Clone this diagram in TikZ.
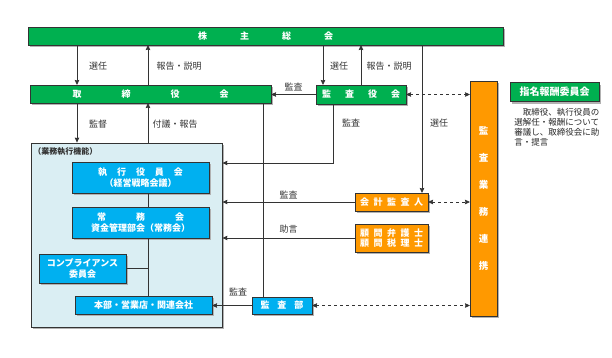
\documentclass[tikz,border=0pt]{standalone}
\usepackage{fontspec}
\setmainfont{Noto Sans CJK JP}
\usetikzlibrary{shadows,arrows.meta}

\definecolor{kgreen}{HTML}{00B050}
\definecolor{kblue}{HTML}{00B0F0}
\definecolor{korange}{HTML}{FF9900}
\definecolor{kpale}{HTML}{DAEEF3}
\definecolor{kline}{HTML}{333333}

\begin{document}
\begin{tikzpicture}[x=1pt,y=-1pt,line width=0.8pt,color=kline,
    >={Stealth[length=5pt,width=4.5pt,inset=0.5pt]},
    shade/.style={drop shadow={shadow xshift=2pt,shadow yshift=-2pt,fill=black!30,opacity=1}},
    gbox/.style={draw=kline,fill=kgreen,text=white,inner sep=0pt,outer sep=0pt,align=center,
        font=\bfseries\fontsize{9}{11}\selectfont,shade},
    bbox/.style={gbox,fill=kblue},
    obox/.style={gbox,fill=korange},
    lbl/.style={text=kline,inner sep=1pt,font=\fontsize{9}{11}\selectfont}]

    \useasboundingbox (0,0) rectangle (612,357);

    % COLUMNS
    \coordinate (c1) at (77,0);
    \coordinate (c2) at (148,0);
    \coordinate (c3) at (263,0);
    \coordinate (c4) at (323,0);
    \coordinate (c5) at (361,0);
    \coordinate (c6) at (422,0);
    \coordinate (c7) at (333,163);

    % ROW 1
    \node[gbox,minimum width=475pt,minimum height=18pt] (soukai) at (265.5,36)
        {株\hspace{33pt}主\hspace{33pt}総\hspace{33pt}会};

    % ROW 2
    \node[gbox,minimum width=241pt,minimum height=18pt] (torishimari) at (150.5,94)
        {取\hspace{40pt}締\hspace{40pt}役\hspace{40pt}会};
    \node[gbox,minimum width=90pt,minimum height=19pt] (kansayaku) at (361,94.5)
        {監\hspace{14pt}査\hspace{14pt}役\hspace{14pt}会};
    \node[obox,minimum width=27pt,minimum height=235pt,font=\bfseries\fontsize{9.5}{27}\selectfont] (renkei) at (483.5,198.5)
        {監\\査\\業\\務\\連\\携};
    \node[gbox,minimum width=89pt,minimum height=19pt,font=\bfseries\fontsize{10}{12}\selectfont] (shimei) at (554.5,92)
        {指名報酬委員会};
    \node[anchor=north west,align=left,inner sep=0pt,text=black!85,font=\fontsize{8.5}{10}\selectfont] (shimeinote) at (514,108)
        {　取締役、執行役員の\\選解任・報酬について\\審議し、取締役会に助\\言・提言};

    % BUSINESS EXECUTION
    \node[draw=kline,fill=kpale,minimum width=191pt,minimum height=184pt,inner sep=0pt,shade] (gyomu) at (126.5,235) {};
    \node[anchor=west,inner sep=0pt,text=kline,font=\bfseries\fontsize{8}{10}\selectfont] (gyomulbl) at (33,152) {（業務執行機能）};
    \node[bbox,minimum width=137pt,minimum height=31pt] (shikko) at (140.5,177.5)
        {執\hspace{10pt}行\hspace{10pt}役\hspace{10pt}員\hspace{10pt}会\\（経営戦略会議）};
    \node[bbox,minimum width=137pt,minimum height=31pt] (jomu) at (140.5,222.5)
        {常\hspace{30pt}務\hspace{30pt}会\\資金管理部会（常務会）};
    \node[bbox,minimum width=87pt,minimum height=29pt] (compli) at (82.5,268.5)
        {コンプライアンス\\委員会};
    \node[bbox,minimum width=137pt,minimum height=18pt] (honbu) at (143.5,305)
        {本部・営業店・関連会社};

    % AUDIT
    \node[obox,minimum width=73pt,minimum height=18pt] (kaikei) at (391.5,202)
        {会\hspace{4.5pt}計\hspace{4.5pt}監\hspace{4.5pt}査\hspace{4.5pt}人};
    \node[obox,minimum width=73pt,minimum height=28pt,font=\bfseries\fontsize{9}{10}\selectfont] (komon) at (391.5,238)
        {顧\hspace{4.5pt}問\hspace{4.5pt}弁\hspace{4.5pt}護\hspace{4.5pt}士\\顧\hspace{4.5pt}問\hspace{4.5pt}税\hspace{4.5pt}理\hspace{4.5pt}士};
    \node[bbox,minimum width=60pt,minimum height=17pt] (kansabu) at (282,305.5)
        {監\hspace{8pt}査\hspace{8pt}部};

    % ARROWS
    \draw[->] (c1 |- soukai.south) -- (c1 |- torishimari.north);
    \draw[->] (c2 |- torishimari.north) -- (c2 |- soukai.south);
    \draw[->] (c4 |- soukai.south) -- (c4 |- kansayaku.north);
    \draw[->] (c5 |- kansayaku.north) -- (c5 |- soukai.south);
    \draw[->] (c6 |- soukai.south) -- (c6 |- kaikei.north);
    \draw[->] (kansayaku.west) -- (kansayaku.west -| torishimari.east)
        node[lbl,midway,above=2pt] (lkansa0) {監査};
    \draw[<->,dashed] (kansayaku.east) -- (kansayaku.east -| renkei.west);

    \draw[->] (c1 |- torishimari.south) -- (c1 |- gyomu.north);
    \draw[->] (c2 |- gyomu.north) -- (c2 |- torishimari.south);
    \draw (c3 |- torishimari.south) -- (c3 |- kansabu.north);
    \draw[->] (c7 |- kansayaku.south) -- (c7) -- (c7 -| gyomu.east);

    \draw[->] (kaikei.west) -- (kaikei.west -| gyomu.east)
        node[lbl,midway,above=2pt] (lkansa2) {監査};
    \draw[<->,dashed] (kaikei.east) -- (kaikei.east -| renkei.west);
    \draw[->] (komon.west) -- (komon.west -| gyomu.east)
        node[lbl,midway,above=3pt] (ljogen) {助言};
    \draw[->] (kansabu.west) -- (honbu.east |- kansabu.west)
        node[lbl,pos=0.35,above=8pt] (lkansa3) {監査};
    \draw[<->,dashed] (kansabu.east) -- (kansabu.east -| renkei.west);

    % INNER LINES
    \draw (c2 |- shikko.south) -- (c2 |- jomu.north);
    \draw (c2 |- jomu.south) -- (c2 |- honbu.north);
    \draw (compli.east) -- (compli.east -| c2);

    % LABELS
    \node[lbl] (lsennin1) at (98,66) {選任};
    \node[lbl] (lhoukoku1) at (179,66) {報告・説明};
    \node[lbl] (lsennin2) at (339,66) {選任};
    \node[lbl] (lhoukoku2) at (389,66) {報告・説明};
    \node[lbl] (lkantoku) at (98,124) {監督};
    \node[lbl] (lfugi) at (175,124) {付議・報告};
    \node[lbl] (lkansa1) at (351,123) {監査};
    \node[lbl] (lsennin3) at (439,123) {選任};

\end{tikzpicture}
\end{document}
